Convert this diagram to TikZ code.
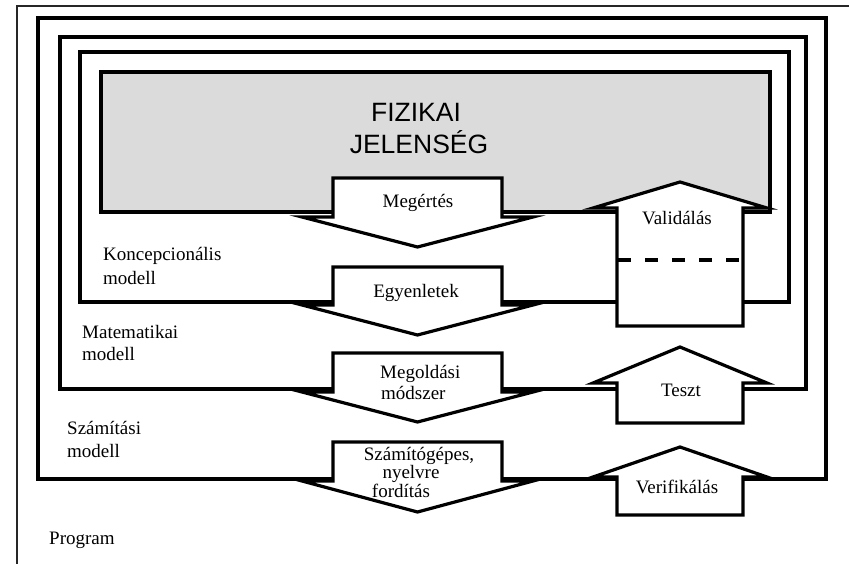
\documentclass[tikz,border=0pt]{standalone}
\usepackage{fontspec}
\setmainfont{Liberation Serif}
\newfontfamily\headfont{Liberation Sans}
\newcommand\DArr[4]{\draw[arr] (#1-84.5,#2) -- (#1+84.5,#2) -- (#1+84.5,#3) -- (#1+115.5,#3) -- (#1,#4) -- (#1-115.5,#3) -- (#1-84.5,#3) -- cycle;}
\newcommand\UArr[4]{\draw[arr] (#1-63,#4) -- (#1-63,#3) -- (#1-87,#3) -- (#1,#2) -- (#1+87,#3) -- (#1+63,#3) -- (#1+63,#4) -- cycle;}
\begin{document}
\begin{tikzpicture}[x=1pt,y=-1pt,
  frame/.style={line width=3.2pt},
  arr/.style={draw, line width=3.2pt, fill=white, line join=miter},
  lbl/.style={inner sep=0pt, font=\fontsize{19}{23}\selectfont},
  head/.style={inner sep=0pt, font=\headfont\fontsize{26.5}{32}\selectfont},
]
\useasboundingbox (0,0) rectangle (849,564);
\draw[line width=1.6pt, black!85] (17,564) -- (17,6) -- (849,6);
\draw[frame] (38,18) rectangle (826,479);
\draw[frame] (60,37) rectangle (806,389);
\draw[frame] (80,52) rectangle (789,302);
\draw[frame, fill=black!14] (101,72) rectangle (770,212);
% down arrows
\DArr{417.5}{178}{217}{247}
\DArr{417.5}{267}{305}{335}
\DArr{417.5}{353}{392}{422}
\DArr{417.5}{442}{481}{512}
% up arrows
\UArr{680}{182}{208}{326}
\UArr{680}{347}{383}{423}
\UArr{680}{447}{477}{515}
\draw[line width=3.2pt, dash pattern=on 13pt off 14pt] (618,260) -- (742,260);
% texts
\node[head, anchor=base] (fiz1) at (416,122) {FIZIKAI};
\node[head, anchor=base] (fiz2) at (419,154) {JELENSÉG};
\node[lbl, anchor=base] (megert) at (418,208) {Megértés};
\node[lbl, anchor=base] (egyen) at (416,298) {Egyenletek};
\node[lbl, anchor=base west] (megold1) at (380,378) {Megoldási};
\node[lbl, anchor=base west] (megold2) at (381,399) {módszer};
\node[lbl, anchor=base] (szg1) at (419,460) {Számítógépes,};
\node[lbl, anchor=base] (szg2) at (411,478) {nyelvre};
\node[lbl, anchor=base] (szg3) at (401,497) {fordítás};
\node[lbl, anchor=base] (valid) at (677,225) {Validálás};
\node[lbl, anchor=base] (teszt) at (681,396) {Teszt};
\node[lbl, anchor=base] (verif) at (677,493) {Verifikálás};
\node[lbl, anchor=base west] (konc1) at (103,261) {Koncepcionális};
\node[lbl, anchor=base west] (konc2) at (103,284) {modell};
\node[lbl, anchor=base west] (mat1) at (82,338) {Matematikai};
\node[lbl, anchor=base west] (mat2) at (82,360) {modell};
\node[lbl, anchor=base west] (szam1) at (67,434) {Számítási};
\node[lbl, anchor=base west] (szam2) at (67,457) {modell};
\node[lbl, anchor=base west] (prog) at (49,544) {Program};
\end{tikzpicture}
\end{document}
